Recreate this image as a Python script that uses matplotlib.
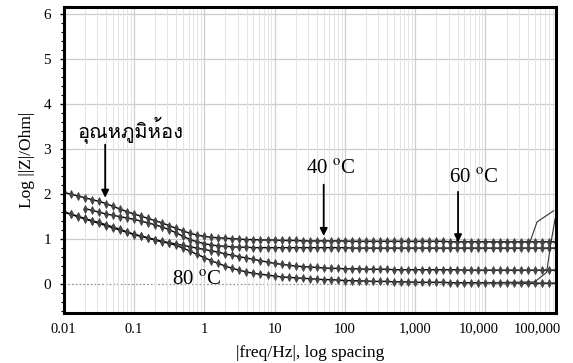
import matplotlib
matplotlib.use("Agg")
import matplotlib.pyplot as plt
import numpy as np
from matplotlib import font_manager
from matplotlib.ticker import FixedLocator, MultipleLocator, NullFormatter
from matplotlib.transforms import ScaledTranslation
from fontTools.ttLib import TTFont

# frequency grid: 10 points per decade, 0.01 Hz .. 100 kHz
freq = np.logspace(-2, 5, 71)

# log|Z|, one value per grid point
room_temp = [
    2.03, 1.99, 1.95, 1.91, 1.87, 1.83, 1.78, 1.72, 1.66, 1.60,
    1.55, 1.50, 1.45, 1.40, 1.35, 1.29, 1.23, 1.17, 1.12, 1.08,
    1.05, 1.03, 1.02, 1.01, 1.00, 0.99, 0.98, 0.98, 0.97, 0.97,
    0.97, 0.96, 0.96, 0.96, 0.95, 0.95, 0.95, 0.95, 0.95, 0.95,
    0.95, 0.94, 0.94, 0.94, 0.94, 0.94, 0.94, 0.94, 0.94, 0.94,
    0.94, 0.94, 0.94, 0.94, 0.94, 0.93, 0.93, 0.93, 0.93, 0.93,
    0.93, 0.93, 0.93, 0.93, 0.93, 0.93, 0.93, 0.93, 0.93, 0.93,
    0.93,
]
# this one starts at 0.02 Hz (grid index 3)
temp_b = [
    1.67, 1.63, 1.59, 1.55, 1.52, 1.49, 1.46,
    1.43, 1.39, 1.35, 1.31, 1.26, 1.20, 1.13, 1.05, 0.98, 0.93,
    0.89, 0.86, 0.84, 0.83, 0.82, 0.81, 0.81, 0.80, 0.80, 0.80,
    0.80, 0.80, 0.80, 0.80, 0.80, 0.80, 0.80, 0.80, 0.80, 0.80,
    0.80, 0.79, 0.79, 0.79, 0.79, 0.79, 0.79, 0.79, 0.79, 0.79,
    0.79, 0.79, 0.79, 0.79, 0.79, 0.79, 0.79, 0.79, 0.79, 0.79,
    0.79, 0.79, 0.79, 0.79, 0.79, 0.79, 0.79, 0.79, 0.79, 0.79,
    0.79,
]
temp_c = [
    1.60, 1.55, 1.50, 1.45, 1.40, 1.36, 1.31, 1.26, 1.21, 1.15,
    1.10, 1.06, 1.02, 0.98, 0.94, 0.91, 0.88, 0.85, 0.82, 0.79,
    0.76, 0.73, 0.70, 0.66, 0.63, 0.60, 0.57, 0.54, 0.51, 0.48,
    0.45, 0.43, 0.41, 0.39, 0.38, 0.37, 0.36, 0.35, 0.34, 0.34,
    0.33, 0.33, 0.33, 0.32, 0.32, 0.32, 0.32, 0.31, 0.31, 0.31,
    0.31, 0.31, 0.31, 0.31, 0.31, 0.31, 0.31, 0.30, 0.30, 0.30,
    0.30, 0.30, 0.30, 0.30, 0.30, 0.30, 0.30, 0.30, 0.30, 0.30,
    0.30,
]
temp_80 = [
    1.59, 1.54, 1.49, 1.44, 1.39, 1.34, 1.29, 1.24, 1.19, 1.14,
    1.09, 1.05, 1.01, 0.97, 0.93, 0.90, 0.85, 0.79, 0.72, 0.65,
    0.58, 0.51, 0.45, 0.39, 0.34, 0.30, 0.26, 0.23, 0.21, 0.19,
    0.17, 0.15, 0.14, 0.13, 0.12, 0.11, 0.10, 0.09, 0.09, 0.08,
    0.07, 0.07, 0.06, 0.06, 0.05, 0.05, 0.05, 0.04, 0.04, 0.04,
    0.03, 0.03, 0.03, 0.03, 0.03, 0.02, 0.02, 0.02, 0.02, 0.02,
    0.02, 0.02, 0.02, 0.02, 0.02, 0.01, 0.01, 0.01, 0.01, 0.01,
    0.01,
]

# thin unmarked traces that turn up at the high-frequency end
tail_top_freq = [1.0e4, 4.3e4, 5.4e4, 9.3e4]
tail_top = [0.93, 0.93, 1.37, 1.62]
tail_low_freq = [1.0e4, 5.0e4, 7.4e4, 8.5e4, 9.8e4]
tail_low = [0.02, 0.04, 0.25, 0.90, 1.45]

xticks = [0.01, 0.1, 1, 10, 100, 1000, 10000, 100000]
xtick_labels = ["0.01", "0.1", "1", "10", "100", "1,000", "10,000", "100,000"]
yticks = [0, 1, 2, 3, 4, 5, 6]


def thai_font():
    for f in font_manager.fontManager.ttflist:
        try:
            cmap = TTFont(f.fname, fontNumber=0, lazy=True).getBestCmap()
        except Exception:
            continue
        if cmap and 0x0E2D in cmap and 0x0E39 in cmap:
            return f.name
    return "DejaVu Sans"


plt.rcParams["font.family"] = ["Liberation Serif", "DejaVu Serif"]
plt.rcParams["mathtext.fontset"] = "stix"

fig = plt.figure(figsize=(5.73, 3.63), dpi=100)
ax = fig.add_axes([0.111, 0.138, 0.859, 0.843])
ax.set_xscale("log")
ax.set_xlim(0.01, 1e5)
ax.set_ylim(-0.65, 6.15)

# grid
ax.xaxis.set_minor_locator(FixedLocator(
    [m * 10.0 ** e for e in range(-2, 5) for m in range(2, 10)]))
ax.xaxis.set_minor_formatter(NullFormatter())
ax.grid(which="minor", axis="x", color="#e4e4e4", lw=0.7)
ax.grid(which="major", axis="x", color="#cfcfcf", lw=0.9)
for y in yticks[1:]:
    ax.axhline(y, color="#cccccc", lw=0.9, zorder=0.5)
ax.axhline(0, color="#999999", lw=0.9, ls=(0, (1.5, 1.5)), zorder=0.5)

mk = dict(color="black", lw=1.0, marker="d", markersize=4.0,
          markerfacecolor="#444444", markeredgecolor="#444444",
          markeredgewidth=0.6)
ax.plot(freq, room_temp, **mk)
ax.plot(freq[3:], temp_b, **mk)
ax.plot(freq, temp_c, **mk)
ax.plot(freq, temp_80, **mk)
ax.plot(tail_top_freq, tail_top, color="#333333", lw=0.8)
ax.plot(tail_low_freq, tail_low, color="#333333", lw=0.8)

# annotations
arrow = dict(arrowstyle="-|>", color="black", lw=1.3, mutation_scale=11,
             shrinkA=0, shrinkB=0)
ax.annotate("", xy=(0.039, 1.91), xytext=(0.039, 3.09), arrowprops=arrow)
ax.annotate("", xy=(50, 1.06), xytext=(50, 2.2), arrowprops=arrow)
ax.annotate("", xy=(4070, 0.92), xytext=(4070, 2.04), arrowprops=arrow)
ax.text(0.09, 3.42, "อุณหภูมิห้อง", fontsize=14.5, ha="center", va="center",
        family=[thai_font(), "DejaVu Sans"])
ax.text(62, 2.53, "40 $^{\\mathrm{o}}$C", fontsize=15, ha="center", va="center")
ax.text(6700, 2.33, "60 $^{\\mathrm{o}}$C", fontsize=15, ha="center", va="center")
ax.text(0.79, 0.06, "80 $^{\\mathrm{o}}$C", fontsize=15, ha="center", va="center")

# axes styling
for s in ax.spines.values():
    s.set_linewidth(2.2)
    s.set_color("black")
ax.set_xticks(xticks)
ax.set_xticklabels(xtick_labels)
ax.tick_params(axis="x", which="both", length=0, pad=7, labelsize=10.5)
labels = ax.get_xticklabels()
for lab, dx in ((labels[-2], -7), (labels[-1], -18)):
    lab.set_transform(lab.get_transform()
                      + ScaledTranslation(dx / 100, 0, fig.dpi_scale_trans))
ax.set_yticks(yticks)
ax.yaxis.set_minor_locator(MultipleLocator(0.2))
ax.tick_params(axis="y", which="major", length=3, width=1, pad=6, labelsize=11)
ax.tick_params(axis="y", which="minor", length=2, width=0.8)

ax.set_xlabel("|freq/Hz|, log spacing", fontsize=12.5, labelpad=7)
ax.set_ylabel("Log ||Z|/Ohm|", fontsize=12.5, labelpad=6)

fig.savefig("out.png", dpi=100)
plt.close(fig)
